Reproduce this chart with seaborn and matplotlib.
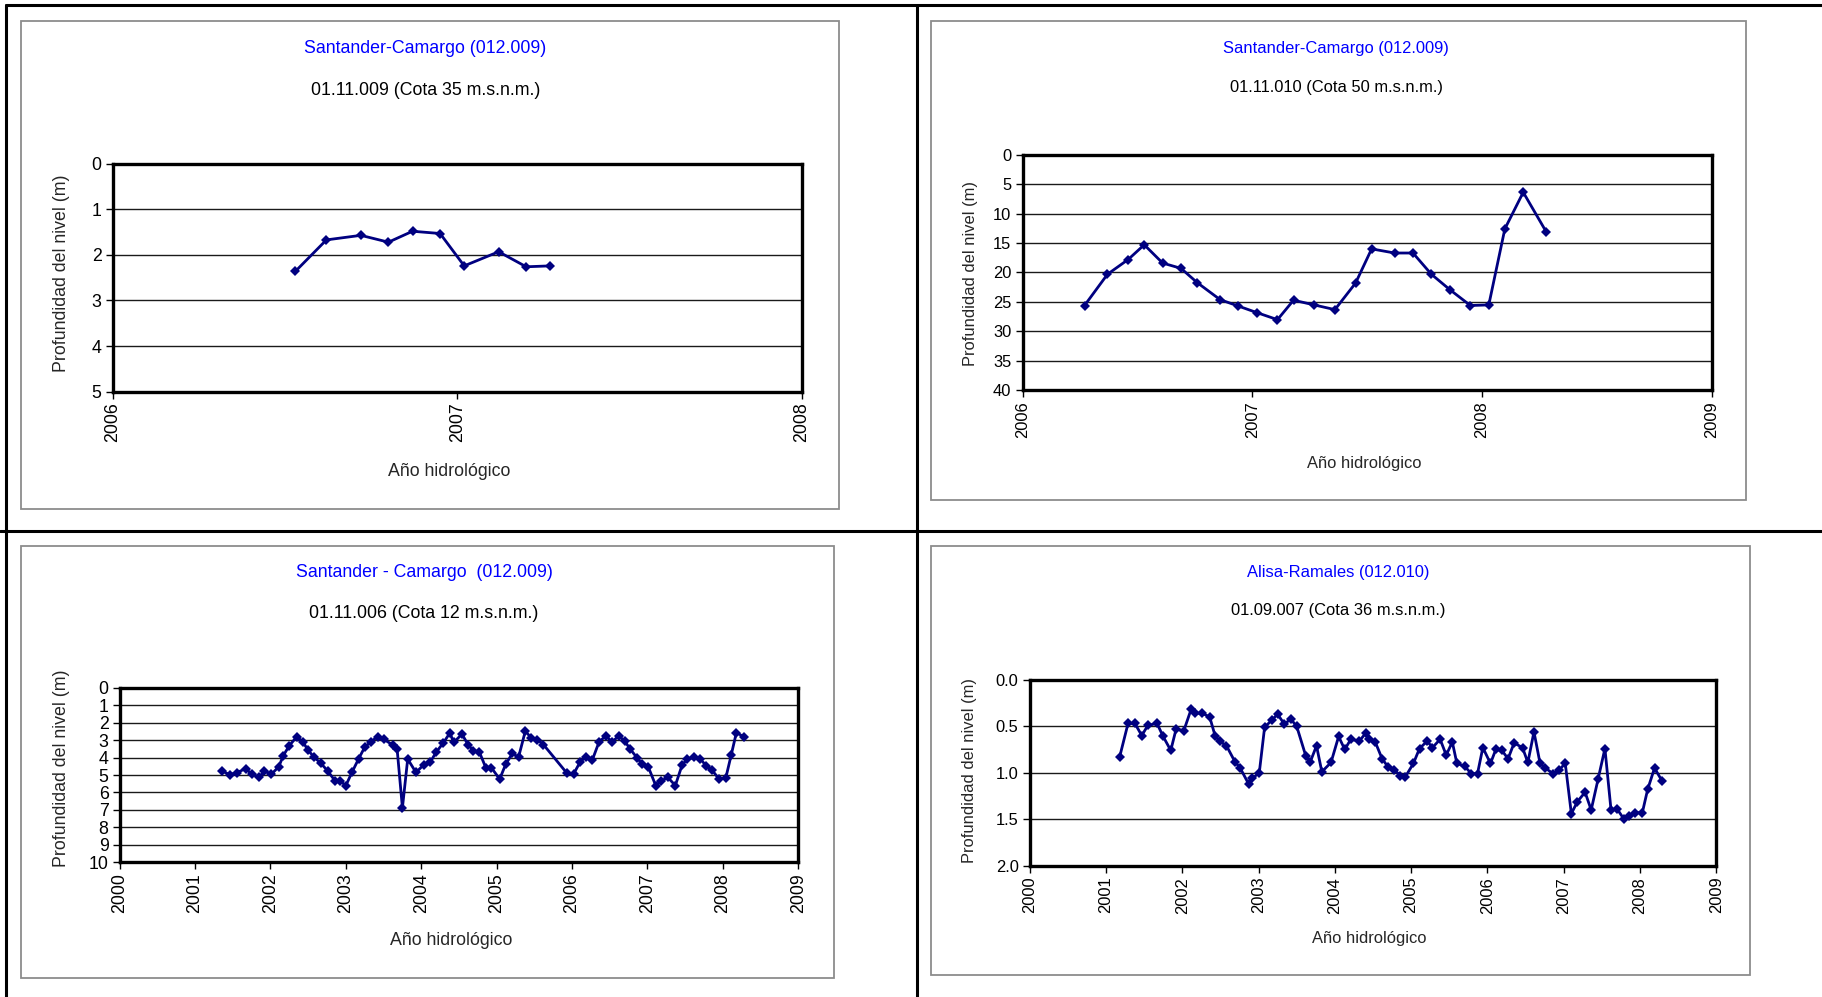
import matplotlib
matplotlib.use("Agg")
import matplotlib.pyplot as plt
from matplotlib.lines import Line2D
from matplotlib.patches import Rectangle
import seaborn as sns

# --- data (hydrological year, water depth in m) ---
tl_year = [2006.53, 2006.62, 2006.72, 2006.80, 2006.87, 2006.95, 2007.02, 2007.12, 2007.20, 2007.27]
tl_depth = [2.36, 1.67, 1.57, 1.72, 1.48, 1.53, 2.24, 1.93, 2.26, 2.24]

tr_year = [2006.27, 2006.37, 2006.46, 2006.53, 2006.61, 2006.69, 2006.76, 2006.86, 2006.94,
           2007.02, 2007.11, 2007.18, 2007.27, 2007.36, 2007.45, 2007.52, 2007.62, 2007.70,
           2007.78, 2007.86, 2007.95, 2008.03, 2008.10, 2008.18, 2008.28]
tr_depth = [25.6, 20.3, 17.8, 15.3, 18.4, 19.3, 21.7, 24.6, 25.7, 26.8, 28.0, 24.7, 25.5,
            26.3, 21.8, 16.0, 16.7, 16.7, 20.3, 22.9, 25.6, 25.5, 12.6, 6.4, 13.1]

bl_year = [2001.36, 2001.46, 2001.55, 2001.67, 2001.75, 2001.85, 2001.92, 2002.01, 2002.11,
           2002.17, 2002.25, 2002.35, 2002.43, 2002.50, 2002.58, 2002.67, 2002.76, 2002.86,
           2002.92, 2003.00, 2003.08, 2003.17, 2003.25, 2003.33, 2003.42, 2003.50, 2003.62,
           2003.68, 2003.75, 2003.82, 2003.93, 2004.03, 2004.12, 2004.20, 2004.29, 2004.38,
           2004.43, 2004.54, 2004.62, 2004.69, 2004.77, 2004.86, 2004.93, 2005.04, 2005.12,
           2005.21, 2005.29, 2005.38, 2005.46, 2005.54, 2005.62, 2005.93, 2006.02, 2006.11,
           2006.19, 2006.27, 2006.36, 2006.45, 2006.53, 2006.62, 2006.70, 2006.77, 2006.86,
           2006.93, 2007.01, 2007.11, 2007.18, 2007.27, 2007.37, 2007.46, 2007.53, 2007.62,
           2007.70, 2007.78, 2007.86, 2007.95, 2008.04, 2008.11, 2008.18, 2008.28]
bl_depth = [4.77, 4.98, 4.87, 4.63, 4.94, 5.13, 4.75, 4.96, 4.52, 3.88, 3.31, 2.79, 3.10,
            3.58, 3.98, 4.33, 4.77, 5.35, 5.33, 5.60, 4.85, 4.06, 3.40, 3.10, 2.79, 2.94,
            3.27, 3.52, 6.88, 4.08, 4.85, 4.42, 4.25, 3.67, 3.17, 2.58, 3.13, 2.65, 3.25,
            3.60, 3.67, 4.62, 4.58, 5.23, 4.38, 3.75, 3.98, 2.48, 2.87, 2.96, 3.25, 4.88,
            4.94, 4.23, 3.94, 4.12, 3.08, 2.75, 3.10, 2.75, 3.06, 3.50, 4.00, 4.37, 4.52,
            5.60, 5.35, 5.13, 5.60, 4.42, 4.08, 3.98, 4.08, 4.46, 4.73, 5.23, 5.15, 3.87,
            2.56, 2.81]

br_year = [2001.18, 2001.29, 2001.38, 2001.47, 2001.55, 2001.67, 2001.75, 2001.85, 2001.92,
           2002.02, 2002.12, 2002.17, 2002.26, 2002.36, 2002.43, 2002.49, 2002.58, 2002.69,
           2002.76, 2002.87, 2002.92, 2003.01, 2003.08, 2003.18, 2003.25, 2003.34, 2003.42,
           2003.50, 2003.62, 2003.68, 2003.76, 2003.83, 2003.95, 2004.05, 2004.13, 2004.21,
           2004.32, 2004.41, 2004.45, 2004.53, 2004.62, 2004.70, 2004.78, 2004.86, 2004.92,
           2005.03, 2005.11, 2005.21, 2005.28, 2005.38, 2005.46, 2005.54, 2005.60, 2005.70,
           2005.79, 2005.87, 2005.94, 2006.04, 2006.11, 2006.19, 2006.27, 2006.35, 2006.46,
           2006.53, 2006.61, 2006.69, 2006.76, 2006.86, 2006.94, 2007.02, 2007.10, 2007.18,
           2007.28, 2007.36, 2007.45, 2007.54, 2007.62, 2007.70, 2007.79, 2007.86, 2007.94,
           2008.03, 2008.10, 2008.19, 2008.29]
br_depth = [0.83, 0.47, 0.47, 0.60, 0.49, 0.47, 0.61, 0.76, 0.53, 0.55, 0.31, 0.36, 0.36,
            0.40, 0.60, 0.66, 0.71, 0.88, 0.95, 1.12, 1.06, 1.00, 0.51, 0.43, 0.37, 0.48,
            0.42, 0.50, 0.82, 0.88, 0.71, 0.99, 0.89, 0.61, 0.75, 0.64, 0.66, 0.57, 0.64,
            0.67, 0.85, 0.94, 0.97, 1.03, 1.05, 0.90, 0.74, 0.66, 0.73, 0.64, 0.81, 0.67,
            0.90, 0.93, 1.01, 1.01, 0.73, 0.90, 0.75, 0.76, 0.85, 0.68, 0.73, 0.89, 0.56,
            0.90, 0.95, 1.01, 0.97, 0.90, 1.44, 1.31, 1.21, 1.40, 1.07, 0.74, 1.40, 1.39,
            1.50, 1.47, 1.43, 1.43, 1.18, 0.95, 1.09]

titles = ["Santander-Camargo (012.009)", "Santander-Camargo (012.009)",
          "Santander - Camargo  (012.009)", "Alisa-Ramales (012.010)"]
subtitles = ["01.11.009 (Cota 35 m.s.n.m.)", "01.11.010 (Cota 50 m.s.n.m.)",
             "01.11.006 (Cota 12 m.s.n.m.)", "01.09.007 (Cota 36 m.s.n.m.)"]
year_ticks = [[2006, 2007, 2008], [2006, 2007, 2008, 2009],
              list(range(2000, 2010)), list(range(2000, 2010))]
depth_ticks = [[0, 1, 2, 3, 4, 5], [0, 5, 10, 15, 20, 25, 30, 35, 40],
               list(range(0, 11)), [0.0, 0.5, 1.0, 1.5, 2.0]]
depth_fmt = ["{:g}", "{:g}", "{:g}", "{:.1f}"]

sns.set_theme(style="white")
plt.rcParams["font.family"] = ["Liberation Sans", "DejaVu Sans"]

fig = plt.figure(figsize=(18.22, 9.97), dpi=100)

# panel geometry in figure fractions: axes rect, chart box, text positions, font size
panels = [
    dict(ax=[0.0619, 0.6072, 0.3782, 0.2285], box=[0.0115, 0.4895, 0.4490, 0.4895], fs=12.8,
         cx=0.2334, ty=0.9511, sy=0.9091, xl=(0.2468, 0.5361), yl=(0.0383, 0.7260)),
    dict(ax=[0.5612, 0.6084, 0.3782, 0.2366], box=[0.5108, 0.4988, 0.4477, 0.4802], fs=11.9,
         cx=0.7334, ty=0.9511, sy=0.9126, xl=(0.7487, 0.5431), yl=(0.5370, 0.7260)),
    dict(ax=[0.0657, 0.1352, 0.3724, 0.1748], box=[0.0115, 0.0186, 0.4464, 0.4336], fs=12.8,
         cx=0.2328, ty=0.4254, sy=0.3846, xl=(0.2474, 0.0652), yl=(0.0383, 0.2290)),
    dict(ax=[0.5651, 0.1317, 0.3769, 0.1865], box=[0.5108, 0.0221, 0.4496, 0.4301], fs=11.9,
         cx=0.7347, ty=0.4254, sy=0.3881, xl=(0.7513, 0.0664), yl=(0.5364, 0.2270)),
]
series = [(tl_year, tl_depth), (tr_year, tr_depth), (bl_year, bl_depth), (br_year, br_depth)]

# outer table lines
for (x0, x1, y0, y1) in [(0.0032, 1.0, 0.9953, 0.9953), (0.0, 1.0, 0.4674, 0.4674),
                         (0.5032, 0.5032, 0.0, 0.9953), (0.0032, 0.0032, 0.0, 0.9953)]:
    fig.add_artist(Line2D([x0, x1], [y0, y1], color="black", lw=2.2, transform=fig.transFigure))

for i, p in enumerate(panels):
    fs = p["fs"]
    # grey chart area border
    fig.add_artist(Rectangle(p["box"][:2], p["box"][2], p["box"][3], fill=False,
                             edgecolor="#8c8c8c", lw=1.3, transform=fig.transFigure))
    ax = fig.add_axes(p["ax"])
    x, y = series[i]
    sns.lineplot(x=x, y=y, ax=ax, color="#000080", lw=2.0, marker="D", markersize=5.5,
                 markeredgewidth=0, estimator=None, sort=False)

    yt = depth_ticks[i]
    xt = year_ticks[i]
    ax.set_ylim(yt[-1], yt[0])
    ax.set_xlim(xt[0], xt[-1])
    ax.set_yticks(yt)
    ax.set_yticklabels([depth_fmt[i].format(v) for v in yt])
    ax.set_xticks(xt)
    ax.set_xticklabels([str(v) for v in xt], rotation=90)
    ax.tick_params(axis="both", labelsize=fs, colors="black", direction="out",
                   length=5, width=1, left=True, bottom=True, pad=3)
    ax.yaxis.grid(True, color="#1a1a1a", lw=1.0)
    ax.xaxis.grid(False)
    for s in ax.spines.values():
        s.set_color("black")
        s.set_linewidth(2.4)

    ax.set_xlabel("Año hidrológico", fontsize=fs)
    ax.xaxis.set_label_coords(p["xl"][0], p["xl"][1], transform=fig.transFigure)
    ax.set_ylabel("Profundidad del nivel (m)", fontsize=fs)
    ax.yaxis.set_label_coords(p["yl"][0], p["yl"][1], transform=fig.transFigure)

    fig.text(p["cx"], p["ty"], titles[i], color="#0000FF", fontsize=fs, ha="center", va="center")
    fig.text(p["cx"], p["sy"], subtitles[i], color="black", fontsize=fs, ha="center", va="center")

plt.savefig("out.png", dpi=100)
plt.close()
